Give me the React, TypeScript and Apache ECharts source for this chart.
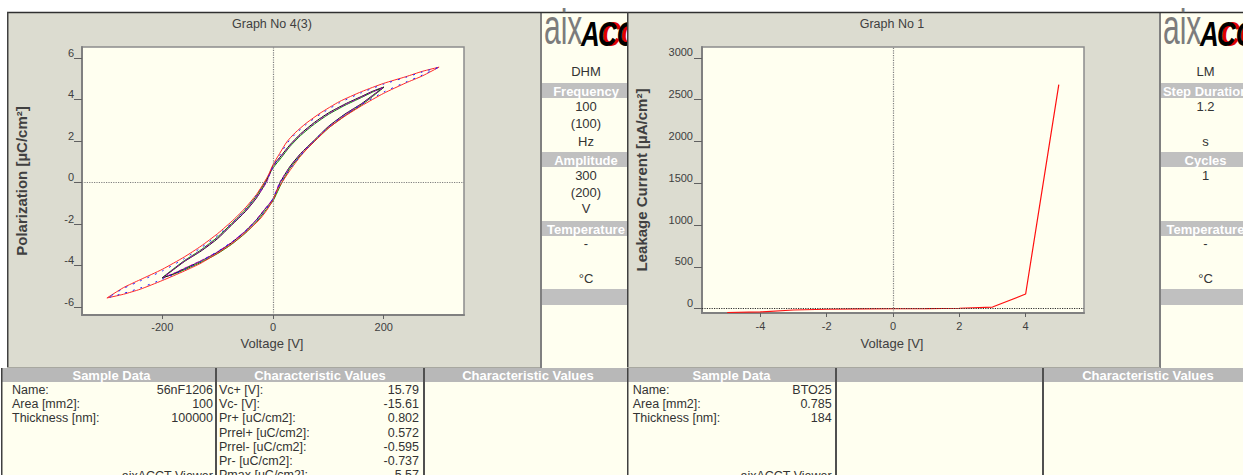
import React, { useEffect, useRef } from "react";
import * as echarts from "echarts";

const FONT = "'Liberation Sans', Arial, Helvetica, sans-serif";

// ---------- DATA ----------
// Hysteresis loops: [Voltage V, Polarization uC/cm2]
const redLoop: number[][] = [
  [300, 5.56], [270, 5.36], [240, 5.1], [200, 4.78], [160, 4.38], [120, 3.9], [85, 3.34], [60, 2.86], [40, 2.4], [25, 1.96], [12, 1.4], [0, 0.86], [-8, 0.38], [-16, 0], [-30, -0.58], [-50, -1.22], [-70, -1.76], [-100, -2.46], [-130, -3.06], [-160, -3.58], [-200, -4.18], [-240, -4.68], [-270, -5.06], [-300, -5.56],
  [-270, -5.38], [-240, -5.14], [-200, -4.72], [-160, -4.26], [-130, -3.88], [-100, -3.4], [-70, -2.86], [-45, -2.3], [-25, -1.8], [-12, -1.36], [0, -0.84], [8, -0.36], [16, 0], [30, 0.56], [50, 1.28], [70, 1.86], [100, 2.62], [130, 3.2], [160, 3.7], [200, 4.3], [240, 4.8], [270, 5.14], [300, 5.56],
];
const blueLoop: number[][] = [
  [298, 5.54], [270, 5.33], [240, 5.07], [200, 4.74], [160, 4.33], [120, 3.84], [85, 3.28], [60, 2.8], [40, 2.33], [25, 1.88], [12, 1.3], [0, 0.76], [-8, 0.3], [-14, 0], [-30, -0.62], [-50, -1.28], [-70, -1.84], [-100, -2.54], [-130, -3.14], [-160, -3.66], [-200, -4.26], [-240, -4.74], [-270, -5.1], [-298, -5.54],
  [-270, -5.34], [-240, -5.08], [-200, -4.66], [-160, -4.2], [-130, -3.8], [-100, -3.32], [-70, -2.78], [-45, -2.22], [-25, -1.72], [-12, -1.28], [0, -0.76], [8, -0.3], [14, 0], [30, 0.62], [50, 1.3], [70, 1.9], [100, 2.68], [130, 3.26], [160, 3.76], [200, 4.36], [240, 4.84], [270, 5.18], [298, 5.54],
];
const blackLoop: number[][] = [
  [200, 4.6], [180, 4.4], [160, 4.15], [130, 3.78], [100, 3.35], [75, 2.9], [50, 2.35], [30, 1.8], [15, 1.3], [0, 0.8], [-13, 0], [-30, -0.75], [-50, -1.4], [-75, -2.05], [-100, -2.7], [-130, -3.3], [-160, -3.8], [-180, -4.2], [-200, -4.6],
  [-180, -4.4], [-160, -4.15], [-130, -3.78], [-100, -3.35], [-75, -2.9], [-50, -2.35], [-30, -1.8], [-15, -1.3], [0, -0.8], [13, 0], [30, 0.75], [50, 1.4], [75, 2.05], [100, 2.7], [130, 3.3], [160, 3.8], [180, 4.2], [200, 4.6],
];
const greenLoop: number[][] = [
  [200, 4.58], [180, 4.36], [160, 4.1], [130, 3.72], [100, 3.28], [75, 2.82], [50, 2.27], [30, 1.72], [15, 1.2], [0, 0.7], [-15, 0], [-30, -0.65], [-50, -1.32], [-75, -1.98], [-100, -2.62], [-130, -3.24], [-160, -3.76], [-180, -4.16], [-200, -4.58],
  [-180, -4.42], [-160, -4.2], [-130, -3.84], [-100, -3.42], [-75, -2.98], [-50, -2.44], [-30, -1.9], [-15, -1.4], [0, -0.88], [16, 0], [30, 0.66], [50, 1.32], [75, 1.98], [100, 2.62], [130, 3.22], [160, 3.74], [180, 4.15], [200, 4.58],
];
const purpleLoop: number[][] = [
  [198, 4.56], [180, 4.38], [160, 4.12], [130, 3.75], [100, 3.31], [75, 2.86], [50, 2.31], [30, 1.76], [15, 1.26], [0, 0.76], [-12, 0], [-30, -0.72], [-50, -1.38], [-75, -2.02], [-100, -2.66], [-130, -3.27], [-160, -3.78], [-180, -4.18], [-198, -4.56],
  [-180, -4.38], [-160, -4.13], [-130, -3.76], [-100, -3.33], [-75, -2.88], [-50, -2.33], [-30, -1.78], [-15, -1.28], [0, -0.78], [12, 0], [30, 0.72], [50, 1.38], [75, 2.02], [100, 2.66], [130, 3.27], [160, 3.78], [180, 4.18], [198, 4.56],
];

// Leakage current
const leakVoltage = [-5, -4, -3, -2, -1, 0, 1, 2, 3, 4, 5];
const leakCurrent = [-45, -38, -15, -6, -1, 0, 2, 6, 20, 176, 2680];

// Axis ticks
const peXTicks = [-200, 0, 200];
const peYTicks = [-6, -4, -2, 0, 2, 4, 6];
const lkXTicks = [-4, -2, 0, 2, 4];
const lkYTicks = [0, 500, 1000, 1500, 2000, 2500, 3000];

// Texts
const leftTitle = "Graph No 4(3)";
const rightTitle = "Graph No 1";
const leftYName = "Polarization [µC/cm²]";
const rightYName = "Leakage Current [µA/cm²]";
const xName = "Voltage [V]";
const leftInfoTexts = ["DHM", "Frequency", "100", "(100)", "Hz", "Amplitude", "300", "(200)", "V", "Temperature", "-", "", "°C", ""];
const rightInfoTexts = ["LM", "Step Duration", "1.2", "", "s", "Cycles", "1", "", "", "Temperature", "-", "", "°C", ""];
const headers = ["Sample Data", "Characteristic Values", "Characteristic Values"];
const sampleLabels = ["Name:", "Area [mm2]:", "Thickness [nm]:"];
const leftSampleValues = ["56nF1206", "100", "100000"];
const rightSampleValues = ["BTO25", "0.785", "184"];
const charLabels = ["Vc+ [V]:", "Vc- [V]:", "Pr+ [uC/cm2]:", "Prrel+ [uC/cm2]:", "Prrel- [uC/cm2]:", "Pr- [uC/cm2]:", "Pmax [uC/cm2]:"];
const charValues = ["15.79", "-15.61", "0.802", "0.572", "-0.595", "-0.737", "5.57"];
const viewerText = "aixACCT Viewer";

// ---------- LAYOUT ----------
const infoSlots: { y?: number; band?: [number, number] }[] = [
  { y: 71 }, { band: [83, 98] }, { y: 106 }, { y: 123 }, { y: 141 }, { band: [152, 167] }, { y: 175 }, { y: 192 }, { y: 208 },
  { band: [221, 236] }, { y: 243 }, { y: 260 }, { y: 278 }, { band: [289, 305] },
];
const ROW_Y = [390, 404.2, 418.4, 432.6, 446.8, 461, 475.2];
const PANEL_BG = "#dcdcd0";
const CREAM = "#fffff0";

function txt(x: number, y: number, text: string, o: any = {}) {
  return {
    type: "text",
    z: o.z ?? 5,
    silent: true,
    style: {
      x, y, text,
      fill: o.fill ?? "#333333",
      fontSize: o.size ?? 12.5,
      fontFamily: FONT,
      fontWeight: o.weight ?? "normal",
      fontStyle: o.style ?? "normal",
      align: o.align ?? "left",
      verticalAlign: o.va ?? "middle",
    },
  };
}
function rect(x: number, y: number, w: number, h: number, fill: string, z = -10, stroke?: string, lw = 0) {
  return { type: "rect", z, silent: true, shape: { x, y, width: w, height: h }, style: { fill, stroke: stroke ?? "none", lineWidth: lw } };
}
function line(x1: number, y1: number, x2: number, y2: number, stroke: string, lw = 1, z = -5) {
  return { type: "line", z, silent: true, shape: { x1, y1, x2, y2 }, style: { stroke, lineWidth: lw } };
}

function logo(x0: number) {
  const t = (dx: number, text: string, fill: string, size: number, sx: number, bold: boolean, italic: boolean) => ({
    type: "text", z: 4, silent: true, x: x0 + dx, y: 52, scaleX: sx, scaleY: 1,
    style: {
      x: 0, y: 0, text, fill, fontSize: size, fontFamily: FONT,
      fontWeight: bold ? "bold" : "normal", fontStyle: italic ? "italic" : "normal",
      align: "left", verticalAlign: "bottom",
    },
  });
  return [
    t(0, "aix", "#7c7c7c", 50, 0.6, false, false),
    t(37, "A", "#000000", 36, 0.72, true, true),
    t(58, "CCT", "#e00000", 36, 0.72, true, true),
    t(54, "CCT", "#000000", 36, 0.72, true, true),
  ];
}

function infoColumn(x0: number, w: number, cx: number, texts: string[]) {
  const els: any[] = [rect(x0, 12, w, 356, CREAM, -9)];
  infoSlots.forEach((s, i) => {
    if (s.band) {
      els.push(rect(x0, s.band[0], w, s.band[1] - s.band[0], "#c0c0c0", -8));
      if (texts[i]) els.push(txt(cx, (s.band[0] + s.band[1]) / 2 + 0.5, texts[i], { fill: "#ffffff", size: 13, weight: "bold", align: "center" }));
    } else if (texts[i]) {
      els.push(txt(cx, s.y as number, texts[i], { size: 13, align: "center" }));
    }
  });
  els.push(line(x0 + 1, 12, x0 + 1, 368, "#808080", 2, -4));
  els.push(...logo(x0 + 4));
  return els;
}

function axisPair(xMin: number, xMax: number, xTicks: number[], yMin: number, yMax: number, yTicks: number[], xMargin: number, yMargin: number) {
  const lab = { fontFamily: FONT, fontSize: 11, color: "#404040", formatter: (v: number) => String(v) };
  return {
    xAxis: {
      type: "value", min: xMin, max: xMax,
      axisLine: { show: true, onZero: false, lineStyle: { color: "#808080", width: 2 } },
      axisTick: { show: true, length: 4, customValues: xTicks, lineStyle: { color: "#606060", width: 1 } },
      axisLabel: { ...lab, customValues: xTicks, margin: xMargin },
      splitLine: { show: false },
    },
    yAxis: {
      type: "value", min: yMin, max: yMax,
      axisLine: { show: true, onZero: false, lineStyle: { color: "#808080", width: 2 } },
      axisTick: { show: true, length: 8, customValues: yTicks, lineStyle: { color: "#606060", width: 1 } },
      axisLabel: { ...lab, customValues: yTicks, margin: yMargin, verticalAlign: "bottom" },
      splitLine: { show: false },
    },
  };
}

function bottomTable(x0: number, x1: number, dividers: number[], hdrCenters: number[], hdrTexts: string[]) {
  const els: any[] = [
    rect(x0, 368, x1 - x0, 107, CREAM, -10),
    rect(x0, 368, x1 - x0, 14, "#b8b8b8", -9),
    line(x0 + 0.75, 368, x0 + 0.75, 475, "#404040", 1.5, -4),
  ];
  dividers.forEach((d) => els.push(line(d, 368, d, 475, "#505050", 2, -4)));
  hdrTexts.forEach((t, i) => {
    if (t) els.push(txt(hdrCenters[i], 375.5, t, { fill: "#ffffff", size: 13, weight: "bold", align: "center" }));
  });
  return els;
}

function leftOption(): any {
  const gx = 82, gy = 47, gw = 382, gh = 268;
  const graphic: any[] = [
    rect(7, 12, 533, 356, PANEL_BG, -10),
    line(7, 12.5, 627, 12.5, "#303030", 1.5, -3),
    line(7.75, 12, 7.75, 368, "#404040", 1.5, -3),
    line(7, 367.5, 540, 367.5, "#a8a8a0", 1, -3),
    rect(gx, gy, gw, gh, CREAM, -7, "#8c8c8c", 1.5),
    ...infoColumn(540, 87, 586, leftInfoTexts),
    ...bottomTable(1, 627, [216, 424], [111.5, 320, 528], headers),
    txt(272, 24, leftTitle, { fill: "#404040", size: 12.5, align: "center" }),
    txt(272, 343.5, xName, { fill: "#404040", size: 13, align: "center" }),
    { ...txt(0, 0, leftYName, { fill: "#404040", size: 15, weight: "bold", align: "center" }), x: 21.5, y: 181, rotation: Math.PI / 2 },
  ];
  sampleLabels.forEach((l, i) => {
    graphic.push(txt(12, ROW_Y[i], l));
    graphic.push(txt(213, ROW_Y[i], leftSampleValues[i], { align: "right" }));
  });
  charLabels.forEach((l, i) => {
    graphic.push(txt(219, ROW_Y[i], l));
    graphic.push(txt(419, ROW_Y[i], charValues[i], { align: "right" }));
  });
  graphic.push(txt(213, 475.5, viewerText, { align: "right" }));

  const lineS = (data: number[][], color: string, type: any = "solid", z = 3) => ({
    type: "line", data, showSymbol: false, symbol: "none", smooth: 0.2, z,
    lineStyle: { color, width: 1, type }, silent: true,
  });
  const s0: any = lineS(greenLoop, "#009000");
  s0.markLine = {
    silent: true, symbol: "none", label: { show: false },
    lineStyle: { type: "dotted", color: "#808080", width: 1.2 },
    data: [{ xAxis: 0 }, { yAxis: 0 }],
  };
  return {
    animation: false,
    backgroundColor: "#ffffff",
    grid: { left: gx, top: gy, width: gw, height: gh, containLabel: false },
    ...axisPair(-345, 345, peXTicks, -6.38, 6.53, peYTicks, 6, 8),
    series: [
      s0,
      lineS(blackLoop, "#101010"),
      lineS(purpleLoop, "#b000c0", "dashed"),
      lineS(redLoop, "#ff2828", "solid", 4),
      lineS(blueLoop, "#2020ff", [2, 6], 5),
    ],
    graphic,
  };
}

function rightOption(): any {
  const gx = 75, gy = 47, gw = 382, gh = 266;
  const graphic: any[] = [
    rect(0, 12, 533, 356, PANEL_BG, -10),
    line(0, 12.5, 616, 12.5, "#303030", 1.5, -3),
    line(0.75, 12, 0.75, 368, "#404040", 1.5, -3),
    line(0, 367.5, 533, 367.5, "#a8a8a0", 1, -3),
    rect(gx, gy, gw, gh, CREAM, -7, "#8c8c8c", 1.5),
    ...infoColumn(532, 84, 578.5, rightInfoTexts),
    ...bottomTable(0, 616, [209, 416], [104.5, 312, 521], ["Sample Data", "", "Characteristic Values"]),
    txt(265, 24, rightTitle, { fill: "#404040", size: 12.5, align: "center" }),
    txt(265, 343.5, xName, { fill: "#404040", size: 13, align: "center" }),
    { ...txt(0, 0, rightYName, { fill: "#404040", size: 15, weight: "bold", align: "center" }), x: 14.5, y: 180, rotation: Math.PI / 2 },
  ];
  sampleLabels.forEach((l, i) => {
    graphic.push(txt(5.7, ROW_Y[i], l));
    graphic.push(txt(204.7, ROW_Y[i], rightSampleValues[i], { align: "right" }));
  });
  graphic.push(txt(204.7, 475.5, viewerText, { align: "right" }));

  return {
    animation: false,
    backgroundColor: "#ffffff",
    grid: { left: gx, top: gy, width: gw, height: gh, containLabel: false },
    ...axisPair(-5.76, 5.76, lkXTicks, -51, 3131, lkYTicks, 7, 9),
    series: [
      {
        type: "line",
        data: leakVoltage.map((v, i) => [v, leakCurrent[i]]),
        showSymbol: false, symbol: "none", silent: true, z: 3,
        lineStyle: { color: "#ff1010", width: 1.2 },
        markLine: {
          silent: true, symbol: "none", label: { show: false },
          data: [
            { xAxis: 0, lineStyle: { type: "dotted", color: "#808080", width: 1.2 } },
            { yAxis: 0, lineStyle: { type: "dotted", color: "#303030", width: 1.2 } },
          ],
        },
      },
    ],
    graphic,
  };
}

export default function App() {
  const leftRef = useRef<HTMLDivElement>(null);
  const rightRef = useRef<HTMLDivElement>(null);
  useEffect(() => {
    const l = echarts.init(leftRef.current as HTMLDivElement, null, { renderer: "svg" });
    l.setOption(leftOption());
    const r = echarts.init(rightRef.current as HTMLDivElement, null, { renderer: "svg" });
    r.setOption(rightOption());
    return () => {
      l.dispose();
      r.dispose();
    };
  }, []);
  return (
    <div style={{ position: "fixed", left: 0, top: 0, width: 1243, height: 475, background: "#ffffff", overflow: "hidden" }}>
      <div ref={leftRef} style={{ position: "absolute", left: 0, top: 0, width: 627, height: 475 }} />
      <div ref={rightRef} style={{ position: "absolute", left: 627, top: 0, width: 616, height: 475 }} />
    </div>
  );
}
